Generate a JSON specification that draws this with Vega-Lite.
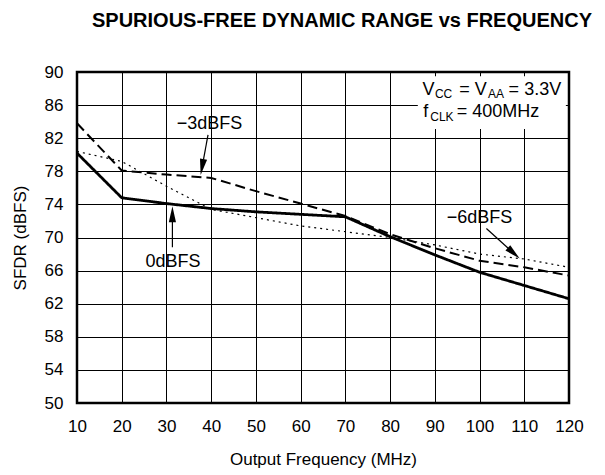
{
  "$schema": "https://vega.github.io/schema/vega-lite/v6.json",
  "width": 492,
  "height": 331,
  "autosize": {"type": "none"},
  "padding": {"left": 77, "top": 72, "right": 36, "bottom": 72},
  "background": "white",
  "title": {
    "text": "SPURIOUS-FREE DYNAMIC RANGE vs FREQUENCY",
    "font": "Liberation Sans",
    "fontSize": 20,
    "fontWeight": "bold",
    "color": "black",
    "anchor": "middle",
    "dx": 19,
    "baseline": "alphabetic",
    "offset": 16
  },
  "config": {
    "view": {"stroke": "black", "strokeWidth": 2.5},
    "axis": {
      "labelFont": "Liberation Sans",
      "titleFont": "Liberation Sans",
      "labelFontSize": 17,
      "titleFontSize": 17,
      "titleFontWeight": "normal",
      "labelColor": "black",
      "titleColor": "black",
      "grid": true,
      "gridColor": "black",
      "gridWidth": 1,
      "gridOpacity": 1,
      "domain": false,
      "ticks": false,
      "labelOverlap": false,
      "labelFlush": false,
      "labelBound": false,
      "tickCount": 30
    },
    "text": {"font": "Liberation Sans", "color": "black"}
  },
  "datasets": {
    "curves": [
      {"freq": 10, "sfdr": 80.2, "series": "0dBFS"},
      {"freq": 20, "sfdr": 74.8, "series": "0dBFS"},
      {"freq": 30, "sfdr": 74.1, "series": "0dBFS"},
      {"freq": 40, "sfdr": 73.5, "series": "0dBFS"},
      {"freq": 50, "sfdr": 73.1, "series": "0dBFS"},
      {"freq": 60, "sfdr": 72.8, "series": "0dBFS"},
      {"freq": 70, "sfdr": 72.5, "series": "0dBFS"},
      {"freq": 80, "sfdr": 70.1, "series": "0dBFS"},
      {"freq": 90, "sfdr": 67.9, "series": "0dBFS"},
      {"freq": 100, "sfdr": 65.8, "series": "0dBFS"},
      {"freq": 110, "sfdr": 64.2, "series": "0dBFS"},
      {"freq": 120, "sfdr": 62.6, "series": "0dBFS"},
      {"freq": 10, "sfdr": 83.8, "series": "-3dBFS"},
      {"freq": 20, "sfdr": 78.1, "series": "-3dBFS"},
      {"freq": 30, "sfdr": 77.6, "series": "-3dBFS"},
      {"freq": 40, "sfdr": 77.2, "series": "-3dBFS"},
      {"freq": 50, "sfdr": 75.6, "series": "-3dBFS"},
      {"freq": 60, "sfdr": 74.1, "series": "-3dBFS"},
      {"freq": 70, "sfdr": 72.6, "series": "-3dBFS"},
      {"freq": 80, "sfdr": 70.4, "series": "-3dBFS"},
      {"freq": 90, "sfdr": 68.7, "series": "-3dBFS"},
      {"freq": 100, "sfdr": 67.2, "series": "-3dBFS"},
      {"freq": 110, "sfdr": 66.4, "series": "-3dBFS"},
      {"freq": 120, "sfdr": 65.4, "series": "-3dBFS"},
      {"freq": 10, "sfdr": 80.4, "series": "-6dBFS"},
      {"freq": 20, "sfdr": 79.2, "series": "-6dBFS"},
      {"freq": 30, "sfdr": 76.2, "series": "-6dBFS"},
      {"freq": 40, "sfdr": 73.4, "series": "-6dBFS"},
      {"freq": 50, "sfdr": 72.4, "series": "-6dBFS"},
      {"freq": 60, "sfdr": 71.4, "series": "-6dBFS"},
      {"freq": 70, "sfdr": 70.7, "series": "-6dBFS"},
      {"freq": 80, "sfdr": 70.0, "series": "-6dBFS"},
      {"freq": 90, "sfdr": 69.1, "series": "-6dBFS"},
      {"freq": 100, "sfdr": 68.0, "series": "-6dBFS"},
      {"freq": 110, "sfdr": 67.4, "series": "-6dBFS"},
      {"freq": 120, "sfdr": 66.4, "series": "-6dBFS"}
    ]
  },
  "layer": [
    {
      "data": {"name": "curves"},
      "mark": {"type": "line", "color": "black", "strokeCap": "butt"},
      "encoding": {
        "x": {
          "field": "freq",
          "type": "quantitative",
          "scale": {"domain": [10, 120], "nice": false, "zero": false},
          "axis": {
            "values": [10, 20, 30, 40, 50, 60, 70, 80, 90, 100, 110, 120],
            "tickCount": 30,
            "title": "Output Frequency (MHz)",
            "labelPadding": 15,
            "titlePadding": 17
          }
        },
        "y": {
          "field": "sfdr",
          "type": "quantitative",
          "scale": {"domain": [50, 90], "nice": false, "zero": false},
          "axis": {
            "values": [50, 54, 58, 62, 66, 70, 74, 78, 82, 86, 90],
            "tickCount": 30,
            "title": "SFDR (dBFS)",
            "labelPadding": 14,
            "titlePadding": 15
          }
        },
        "detail": {"field": "series", "type": "nominal"},
        "strokeDash": {
          "field": "series",
          "type": "nominal",
          "scale": {"domain": ["0dBFS", "-3dBFS", "-6dBFS"], "range": [[1, 0], [10, 5], [2, 4]]},
          "legend": null
        },
        "strokeWidth": {
          "field": "series",
          "type": "nominal",
          "scale": {"domain": ["0dBFS", "-3dBFS", "-6dBFS"], "range": [2.8, 1.2, 1.4]},
          "legend": null
        }
      }
    },
    {
      "data": {"values": [{"freq": 86.2, "freq2": 119.3, "sfdr": 89.5, "sfdr2": 83.1}]},
      "mark": {"type": "rect", "color": "white"},
      "encoding": {
        "x": {"field": "freq", "type": "quantitative"},
        "x2": {"field": "freq2"},
        "y": {"field": "sfdr", "type": "quantitative"},
        "y2": {"field": "sfdr2"}
      }
    },
    {
      "data": {"values": [
        {"freq": 39.29, "sfdr": 82.4, "freq2": 37.97, "sfdr2": 78.51},
        {"freq": 31.33, "sfdr": 68.82, "freq2": 31.33, "sfdr2": 72.82},
        {"freq": 101.53, "sfdr": 71.09, "freq2": 107.65, "sfdr2": 68.1}
      ]},
      "mark": {"type": "rule", "color": "black", "strokeWidth": 1.2},
      "encoding": {
        "x": {"field": "freq", "type": "quantitative"},
        "x2": {"field": "freq2"},
        "y": {"field": "sfdr", "type": "quantitative"},
        "y2": {"field": "sfdr2"}
      }
    },
    {
      "data": {"values": [{"freq": 37.97, "sfdr": 78.51}]},
      "mark": {"type": "point", "shape": "M0,-1L-0.45,1L0.45,1Z", "filled": true, "color": "black", "size": 256, "angle": 190.3, "opacity": 1},
      "encoding": {
        "x": {"field": "freq", "type": "quantitative"},
        "y": {"field": "sfdr", "type": "quantitative"}
      }
    },
    {
      "data": {"values": [{"freq": 31.33, "sfdr": 72.82}]},
      "mark": {"type": "point", "shape": "M0,-1L-0.45,1L0.45,1Z", "filled": true, "color": "black", "size": 256, "angle": 0, "opacity": 1},
      "encoding": {
        "x": {"field": "freq", "type": "quantitative"},
        "y": {"field": "sfdr", "type": "quantitative"}
      }
    },
    {
      "data": {"values": [{"freq": 107.65, "sfdr": 68.1}]},
      "mark": {"type": "point", "shape": "M0,-1L-0.45,1L0.45,1Z", "filled": true, "color": "black", "size": 256, "angle": 132, "opacity": 1},
      "encoding": {
        "x": {"field": "freq", "type": "quantitative"},
        "y": {"field": "sfdr", "type": "quantitative"}
      }
    },
    {
      "data": {"values": [
        {"freq": 39.6, "sfdr": 83.67, "label": "−3dBFS"},
        {"freq": 31.47, "sfdr": 67.04, "label": "0dBFS"},
        {"freq": 100.0, "sfdr": 72.34, "label": "−6dBFS"}
      ]},
      "mark": {"type": "text", "fontSize": 18, "align": "center", "baseline": "middle"},
      "encoding": {
        "x": {"field": "freq", "type": "quantitative"},
        "y": {"field": "sfdr", "type": "quantitative"},
        "text": {"field": "label"}
      }
    },
    {
      "data": {"values": [
        {"freq": 87.27, "sfdr": 87.21, "label": "V"},
        {"freq": 95.46, "sfdr": 87.21, "label": "= V"},
        {"freq": 106.5, "sfdr": 87.21, "label": "= 3.3V"},
        {"freq": 87.4, "sfdr": 84.58, "label": "f"},
        {"freq": 94.88, "sfdr": 84.58, "label": "= 400MHz"}
      ]},
      "mark": {"type": "text", "fontSize": 18, "align": "left", "baseline": "alphabetic"},
      "encoding": {
        "x": {"field": "freq", "type": "quantitative"},
        "y": {"field": "sfdr", "type": "quantitative"},
        "text": {"field": "label"}
      }
    },
    {
      "data": {"values": [
        {"freq": 90.02, "sfdr": 86.8, "label": "CC"},
        {"freq": 101.9, "sfdr": 86.8, "label": "AA"},
        {"freq": 88.97, "sfdr": 84.06, "label": "CLK"}
      ]},
      "mark": {"type": "text", "fontSize": 12, "align": "left", "baseline": "alphabetic"},
      "encoding": {
        "x": {"field": "freq", "type": "quantitative"},
        "y": {"field": "sfdr", "type": "quantitative"},
        "text": {"field": "label"}
      }
    }
  ]
}
